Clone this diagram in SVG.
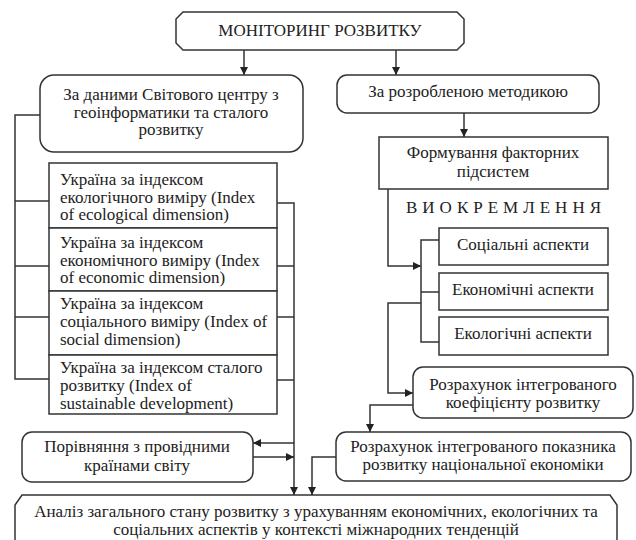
<svg xmlns="http://www.w3.org/2000/svg" width="636" height="540" viewBox="0 0 636 540">
<defs>
<marker id="ah" viewBox="0 0 10 10" refX="10" refY="5" markerWidth="9" markerHeight="8" markerUnits="userSpaceOnUse" orient="auto">
<path d="M0,0 L10,5 L0,10 z" fill="#222"/>
</marker>
<style>
.b{fill:#fff;stroke:#333;stroke-width:1.5}
.t{font-family:"Liberation Serif","Times New Roman",serif;font-size:17px;fill:#222;text-anchor:middle}
.l{font-family:"Liberation Serif","Times New Roman",serif;font-size:17px;fill:#222}
.c{fill:none;stroke:#333;stroke-width:1.5}
.a{fill:none;stroke:#333;stroke-width:1.5;marker-end:url(#ah)}
</style>
</defs>
<rect width="636" height="540" fill="#fff"/>
<g id="connectors">
<line class="a" x1="244" y1="50" x2="244" y2="75"/>
<line class="a" x1="396" y1="50" x2="396" y2="75"/>
<line class="a" x1="464" y1="113" x2="464" y2="137"/>
<polyline class="a" points="388,189 388,266 421,266"/>
<polyline class="c" points="439,240 421,240 421,342 439,342"/>
<line class="c" x1="421" y1="292" x2="439" y2="292"/>
<polyline class="a" points="421,303 388,303 388,393 413,393"/>
<polyline class="a" points="413,405 370,405 370,432"/>
<polyline class="a" points="336,457 312,457 312,495"/>
<polyline class="c" points="40,115 15,115 15,379 49,379"/>
<line class="c" x1="15" y1="201" x2="49" y2="201"/>
<line class="c" x1="15" y1="266" x2="49" y2="266"/>
<line class="c" x1="15" y1="317" x2="49" y2="317"/>
<polyline class="a" points="277,203 294,203 294,495"/>
<line class="c" x1="277" y1="266" x2="294" y2="266"/>
<line class="c" x1="277" y1="317" x2="294" y2="317"/>
<line class="c" x1="277" y1="380" x2="294" y2="380"/>
<line class="a" x1="294" y1="443" x2="253" y2="443"/>
<line class="a" x1="253" y1="457" x2="294" y2="457"/>
</g>
<g id="monitoring">
<path class="b" d="M183,12 H457 L464,19 V43 L457,50 H183 L176,43 V19 Z"/>
<text class="t" x="320" y="36">МОНІТОРИНГ РОЗВИТКУ</text>
</g>
<g id="world-center">
<rect class="b" x="40" y="75" width="263" height="77" rx="14"/>
<text class="t" x="171" y="100">За даними Світового центру з</text>
<text class="t" x="171" y="117.5">геоінформатики та сталого</text>
<text class="t" x="171" y="135">розвитку</text>
</g>
<g id="method">
<rect class="b" x="337" y="75" width="262" height="38" rx="10"/>
<text class="t" x="468" y="97">За розробленою методикою</text>
</g>
<g id="factor">
<rect class="b" x="379" y="137" width="229" height="52"/>
<text class="t" x="493" y="158">Формування факторних</text>
<text class="t" x="493" y="177">підсистем</text>
</g>
<g id="separation">
<text class="l" x="406" y="213" letter-spacing="5">ВИОКРЕМЛЕННЯ</text>
</g>
<g id="social-aspects">
<rect class="b" x="439" y="228" width="169" height="37"/>
<text class="t" x="523" y="250">Соціальні аспекти</text>
</g>
<g id="economic-aspects">
<rect class="b" x="439" y="273" width="169" height="37"/>
<text class="t" x="523" y="295">Економічні аспекти</text>
</g>
<g id="ecological-aspects">
<rect class="b" x="439" y="317" width="169" height="38"/>
<text class="t" x="523" y="339">Екологічні аспекти</text>
</g>
<g id="coef">
<rect class="b" x="413" y="367" width="220" height="51" rx="10"/>
<text class="t" x="523" y="390">Розрахунок інтегрованого</text>
<text class="t" x="523" y="408">коефіцієнту розвитку</text>
</g>
<g id="indicator">
<rect class="b" x="336" y="432" width="295" height="49" rx="10"/>
<text class="t" x="483" y="452">Розрахунок інтегрованого показника</text>
<text class="t" x="483" y="470">розвитку національної економіки</text>
</g>
<g id="index-eco">
<rect class="b" x="49" y="163" width="228" height="65"/>
<text class="l" x="60" y="185">Україна за індексом</text>
<text class="l" x="60" y="202.5">екологічного виміру (Index</text>
<text class="l" x="60" y="220">of ecological dimension)</text>
</g>
<g id="index-econ">
<rect class="b" x="49" y="228" width="228" height="63"/>
<text class="l" x="60" y="248">Україна за індексом</text>
<text class="l" x="60" y="265.5">економічного виміру (Index</text>
<text class="l" x="60" y="283">of economic dimension)</text>
</g>
<g id="index-social">
<rect class="b" x="49" y="291" width="228" height="64"/>
<text class="l" x="60" y="309">Україна за індексом</text>
<text class="l" x="60" y="327">соціального виміру (Index of</text>
<text class="l" x="60" y="345">social dimension)</text>
</g>
<g id="index-sustain">
<rect class="b" x="49" y="355" width="228" height="59"/>
<text class="l" x="60" y="373">Україна за індексом сталого</text>
<text class="l" x="60" y="391">розвитку (Index of</text>
<text class="l" x="60" y="409">sustainable development)</text>
</g>
<g id="compare">
<rect class="b" x="22" y="432" width="231" height="50" rx="10"/>
<text class="t" x="137" y="452">Порівняння з провідними</text>
<text class="t" x="137" y="471">країнами світу</text>
</g>
<g id="analysis">
<path class="b" d="M22,495 H610 L617,505 V550 H15 V505 Z"/>
<text class="t" x="316" y="517">Аналіз загального стану розвитку з урахуванням економічних, екологічних та</text>
<text class="t" x="316" y="535">соціальних аспектів у контексті міжнародних тенденцій</text>
</g>
</svg>
